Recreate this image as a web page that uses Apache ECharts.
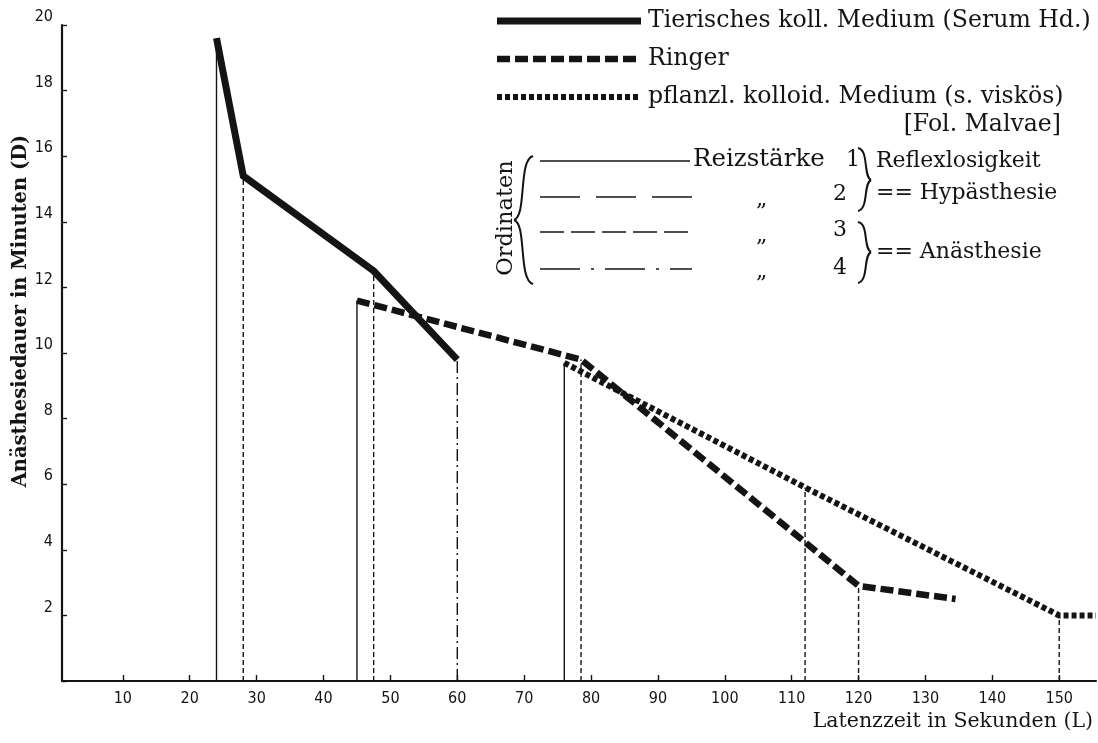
<!DOCTYPE html>
<html><head><meta charset="utf-8">
<script src="https://cdn.jsdelivr.net/npm/echarts@6/dist/echarts.min.js"></script>
<style>html,body{margin:0;padding:0;background:#fff}#c{width:1098px;height:743px}</style>
</head><body><div id="c"></div>
<script>
// Series (L = Latenzzeit in s, D = Anästhesiedauer in min)
const seriesNames = ['Tierisches koll. Medium (Serum Hd.)', 'Ringer', 'pflanzl. kolloid. Medium (s. viskös)'];
const serumL = [24, 28, 47.5, 60];
const serumD = [19.6, 15.4, 12.5, 9.8];
const ringerL = [45, 78.5, 120, 134.5];
const ringerD = [11.6, 9.8, 2.9, 2.5];
const malvaeL = [76, 112, 150, 155.5];
const malvaeD = [9.7, 5.9, 2.0, 2.0];
// Ordinates (vertical lines) and their Reizstärke
const ordL = [24, 28, 45, 47.5, 60, 76, 78.5, 112, 120, 150];
const ordD = [19.6, 15.4, 11.6, 12.5, 9.8, 9.7, 9.8, 5.9, 2.9, 2.0];
const ordStrength = [1, 3, 1, 3, 4, 1, 3, 3, 3, 3];
// Axis ticks
const xTicks = [10, 20, 30, 40, 50, 60, 70, 80, 90, 100, 110, 120, 130, 140, 150];

const ink = '#141414';
const serif = 'DejaVu Serif';
const narrow = "'Liberation Sans Narrow', 'DejaVu Sans Condensed', sans-serif";
const dashFor = {1: 'solid', 2: [16, 7], 3: [5, 3], 4: [12, 4, 2, 4]};
const mainStyles = [
  {width: 7, type: 'solid'},
  {width: 6.5, type: [13, 5]},
  {width: 6, type: [5, 3]}
];
const zip = (a, b) => a.map((v, i) => [v, b[i]]);

const series = [];
ordL.forEach((L, i) => {
  series.push({
    type: 'line', silent: true, symbol: 'none', z: 1,
    data: [[L, 0], [L, ordD[i]]],
    lineStyle: {color: ink, width: 1.4, type: dashFor[ordStrength[i]]}
  });
});
[zip(serumL, serumD), zip(ringerL, ringerD), zip(malvaeL, malvaeD)].forEach((d, i) => {
  series.push({name: seriesNames[i], type: 'line', symbol: 'none', z: 3, data: d,
    lineStyle: {color: ink, width: mainStyles[i].width, type: mainStyles[i].type, cap: 'butt', join: 'miter'}});
});

const F = (px, w) => (w ? w + ' ' : '') + px + 'px "' + serif + '"';
const T = (x, y, text, o) => ({type: 'text', x, y, style: Object.assign({text, fill: ink, font: F(22), textVerticalAlign: 'middle'}, o || {})});
const L = (x1, y1, x2, y2, dash, w) => ({type: 'line', shape: {x1, y1, x2, y2}, style: {stroke: ink, lineWidth: w || 1.6, lineDash: dash || null}});
const B = (x1, y1, c1x, c1y, c2x, c2y, x2, y2) => ({type: 'bezierCurve', shape: {x1, y1, cpx1: c1x, cpy1: c1y, cpx2: c2x, cpy2: c2y, x2, y2}, style: {stroke: ink, lineWidth: 2, fill: null}});

const legendRows = [21, 59, 97];
const graphics = [];
legendRows.forEach((y, i) => {
  const st = mainStyles[i];
  graphics.push(L(497, y, 641, y, st.type === 'solid' ? null : st.type, st.width));
  graphics.push(T(648, y, seriesNames[i], {font: F(23.6)}));
});
graphics.push(
  T(1061, 125, '[Fol. Malvae]', {textAlign: 'right', font: F(23.6)}),
  T(1093, 722, 'Latenzzeit in Sekunden (L)', {textAlign: 'right', font: F(20.5)}),
  {type: 'text', x: 21, y: 311, rotation: Math.PI / 2, style: {text: 'Anästhesiedauer in Minuten (D)', fill: ink, font: F(19.5, 'bold'), textAlign: 'center', textVerticalAlign: 'middle'}},
  {type: 'text', x: 506, y: 218, rotation: Math.PI / 2, style: {text: 'Ordinaten', fill: ink, font: F(22.5), textAlign: 'center', textVerticalAlign: 'middle'}},
  B(533, 156, 518, 160, 527, 216, 514, 220),
  B(514, 220, 527, 224, 518, 280, 533, 284),
  L(540, 161, 690, 161),
  L(540, 197, 692, 197, [40, 16]),
  L(540, 232, 692, 232, [24, 7]),
  L(540, 269, 692, 269, [40, 11, 3, 11]),
  T(693, 160, 'Reizstärke', {font: F(24.5)}),
  T(846, 160, '1'),
  T(756, 200, '„'), T(756, 236, '„'), T(756, 272, '„'),
  T(833, 194, '2'), T(833, 230, '3'), T(833, 268, '4'),
  B(858, 148, 869, 150, 863, 176, 871, 180),
  B(871, 180, 863, 184, 869, 208, 858, 211),
  B(858, 222, 869, 224, 863, 248, 871, 252),
  B(871, 252, 863, 256, 869, 280, 858, 283),
  T(876, 161, 'Reflexlosigkeit'),
  T(876, 193, '== Hypästhesie'),
  T(876, 252, '== Anästhesie')
);

const chart = echarts.init(document.getElementById('c'));
chart.setOption({
  backgroundColor: '#fff',
  animation: false,
  grid: {left: 62, right: 2, top: 25, bottom: 62, containLabel: false},
  xAxis: {
    type: 'value', min: 0.9, max: 155.5,
    splitLine: {show: false},
    axisLine: {onZero: false, lineStyle: {color: ink, width: 2.2}},
    axisTick: {inside: true, length: 6, customValues: xTicks, lineStyle: {color: ink, width: 1.4}},
    axisLabel: {color: ink, fontFamily: narrow, fontSize: 16, margin: 10, customValues: xTicks}
  },
  yAxis: {
    type: 'value', min: 0, max: 20, interval: 2,
    splitLine: {show: false},
    axisLine: {onZero: false, lineStyle: {color: ink, width: 2.2}},
    axisTick: {inside: true, length: 5, lineStyle: {color: ink, width: 1.4}},
    axisLabel: {color: ink, fontFamily: narrow, fontSize: 16, margin: 9, verticalAlign: 'bottom',
      formatter: v => v === 0 ? '' : String(v)}
  },
  graphic: graphics,
  series
});
</script></body></html>
